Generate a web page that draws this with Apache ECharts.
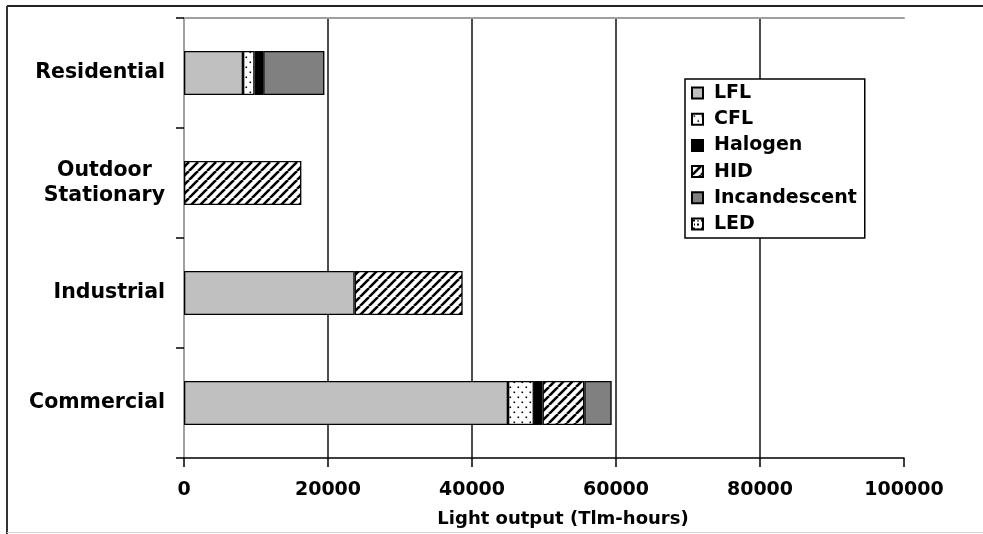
<!DOCTYPE html>
<html>
<head>
<meta charset="utf-8">
<script src="https://cdn.jsdelivr.net/npm/echarts@6/dist/echarts.min.js"></script>
<style>
  html, body { margin: 0; padding: 0; background: #fff; }
  #chart { width: 983px; height: 534px; }
</style>
</head>
<body>
<div id="chart"></div>
<script>
// Light output by sector and lamp technology (Tlm-hours)
const sectors = ['Residential', 'Outdoor\nStationary', 'Industrial', 'Commercial'];
const technologies = ['LFL', 'CFL', 'Halogen', 'HID', 'Incandescent', 'LED'];

const lfl          = [8200,     0, 23700, 45000];
const cfl          = [1600,     0,     0,  3600];
const halogen      = [1200,     0,     0,  1200];
const hid          = [   0, 16300, 15000,  5800];
const incandescent = [8500,     0,     0,  3800];
const led          = [   0,     0,     0,     0];

const xTicks = { min: 0, max: 100000, interval: 20000 };

// Fill patterns for the monochrome bar segments
function tile(w, h, draw) {
  const c = document.createElement('canvas');
  c.width = w; c.height = h;
  const g = c.getContext('2d');
  g.fillStyle = '#fff';
  g.fillRect(0, 0, w, h);
  draw(g);
  return { image: c, repeat: 'repeat' };
}
const dotted = tile(8, 10, g => {
  g.fillStyle = '#000';
  g.fillRect(1.5, 1.5, 1.6, 1.6);
  g.fillRect(5.5, 6.5, 1.6, 1.6);
});
const diagonal = tile(9, 9, g => {
  g.strokeStyle = '#000';
  g.lineWidth = 2.6;
  g.beginPath();
  [-9, 0, 9].forEach(o => { g.moveTo(o, 9); g.lineTo(o + 9, 0); });
  g.stroke();
});
const confetti = tile(8, 8, g => {
  g.fillStyle = '#000';
  g.fillRect(1, 1, 2, 2);
  g.fillRect(5, 2, 2, 1);
  g.fillRect(2, 5, 1, 2);
  g.fillRect(5, 5, 2, 2);
});

const fills = ['#c0c0c0', dotted, '#000000', diagonal, '#808080', confetti];
const values = [lfl, cfl, halogen, hid, incandescent, led];

const FONT = 'DejaVu Sans';

const chart = echarts.init(document.getElementById('chart'), null, { renderer: 'canvas' });

chart.setOption({
  animation: false,
  backgroundColor: '#fff',
  grid: { left: 184, right: 79, top: 18, bottom: 76, containLabel: false },
  graphic: [
    // page frame
    { type: 'line', shape: { x1: 7, y1: 6, x2: 983, y2: 6 }, style: { stroke: '#222', lineWidth: 2 }, silent: true },
    { type: 'line', shape: { x1: 7, y1: 6, x2: 7, y2: 534 }, style: { stroke: '#333', lineWidth: 2 }, silent: true },
    { type: 'line', shape: { x1: 7, y1: 532.5, x2: 983, y2: 532.5 }, style: { stroke: '#d4d4d4', lineWidth: 1 }, silent: true }
  ],
  legend: {
    orient: 'vertical',
    left: 685,
    top: 79,
    padding: [4, 8, 4, 6],
    itemGap: 6.2,
    itemWidth: 11,
    itemHeight: 11,
    icon: 'rect',
    backgroundColor: '#fff',
    borderColor: '#000',
    borderWidth: 1.5,
    selectedMode: false,
    textStyle: {
      fontFamily: FONT, fontWeight: 'bold', fontSize: 19, color: '#000',
      lineHeight: 20, padding: [0, 0, 0, 6]
    },
    data: technologies
  },
  xAxis: [
    {
      type: 'value',
      min: xTicks.min, max: xTicks.max, interval: xTicks.interval,
      name: 'Light output (Tlm-hours)',
      nameLocation: 'middle',
      nameGap: 52,
      nameTextStyle: { fontFamily: FONT, fontWeight: 'bold', fontSize: 18, color: '#000', padding: [0, 0, 0, 38] },
      axisLine: { show: true, lineStyle: { color: '#000', width: 1.5 } },
      axisTick: { show: true, length: 9, lineStyle: { color: '#000', width: 1.5 } },
      axisLabel: {
        fontFamily: FONT, fontWeight: 'bold', fontSize: 19, color: '#000', margin: 23,
        formatter: v => String(v)
      },
      splitLine: { show: true, showMinLine: false, showMaxLine: false, lineStyle: { color: '#111', width: 1.5 } }
    },
    {
      type: 'value', position: 'top',
      min: xTicks.min, max: xTicks.max, interval: xTicks.interval,
      axisLine: { show: true, lineStyle: { color: '#a0a0a0', width: 2 } },
      axisTick: { show: false }, axisLabel: { show: false }, splitLine: { show: false }
    }
  ],
  yAxis: [
    {
      type: 'category',
      data: sectors,
      inverse: true,
      axisLine: { show: true, lineStyle: { color: '#000', width: 1.5 } },
      axisTick: { show: true, length: 8, interval: 0, lineStyle: { color: '#000', width: 1.5 } },
      axisLabel: {
        margin: 19,
        fontFamily: FONT, fontWeight: 'bold', fontSize: 20.5, color: '#000', lineHeight: 25,
        formatter: v => v.indexOf('\n') >= 0 ? v.split('\n').map(s => '{c|' + s + '}').join('\n') : v,
        rich: { c: { align: 'center', fontFamily: FONT, fontWeight: 'bold', fontSize: 20.5, color: '#000', lineHeight: 25 } }
      },
      splitLine: { show: false }
    },
    {
      type: 'category', position: 'right',
      data: sectors, inverse: true,
      axisLine: { show: true, lineStyle: { color: '#a0a0a0', width: 2 } },
      axisTick: { show: false }, axisLabel: { show: false }
    }
  ],
  series: technologies.map((name, i) => ({
    name: name,
    type: 'bar',
    stack: 'output',
    barWidth: 44,
    itemStyle: { color: fills[i], borderColor: '#000', borderWidth: 1.3 },
    emphasis: { disabled: true },
    data: values[i].map(v => (v === 0 ? null : v))
  }))
});
</script>
</body>
</html>
